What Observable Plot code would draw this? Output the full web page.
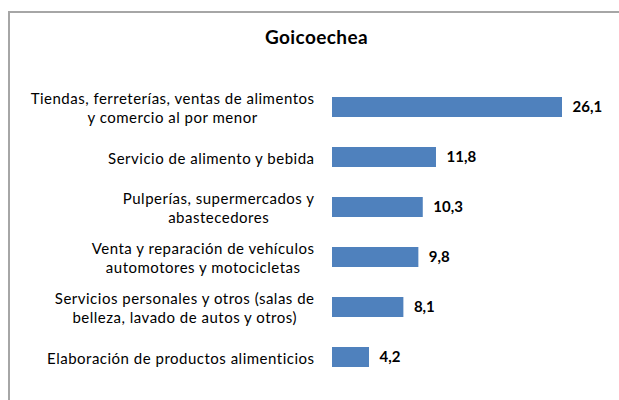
<!DOCTYPE html>
<html>
<head>
<meta charset="utf-8">
<script src="https://cdn.jsdelivr.net/npm/d3@7"></script>
<script src="https://cdn.jsdelivr.net/npm/@observablehq/plot@0.6"></script>
<style>
  body { margin: 0; background: #fff; font-family: Lato, "Open Sans", sans-serif; }
  #frame { position: absolute; left: 8px; top: 11px; width: 700px; height: 500px;
           border-left: 2px solid #a6a6a6; border-top: 2px solid #a6a6a6; }
  #wrap { position: relative; width: 619px; }
  #title { width: 633px; height: 40px; padding-top: 26px; text-align: center;
           font: bold 19px Lato, sans-serif; line-height: 22px; letter-spacing: 0.4px; color: #000; }
  g[aria-label="y-axis tick label"] { letter-spacing: 0.5px; }
</style>
</head>
<body>
<div id="frame"></div>
<div id="wrap">
  <div id="title">Goicoechea</div>
  <div id="chart"></div>
</div>
<script>
const categories = [
  "Tiendas, ferreterías, ventas de alimentos y comercio al por menor",
  "Servicio de alimento y bebida",
  "Pulperías, supermercados y abastecedores",
  "Venta y reparación de vehículos automotores y motocicletas",
  "Servicios personales y otros (salas de belleza, lavado de autos y otros)",
  "Elaboración de productos alimenticios"
];
const tickLabels = [
  "Tiendas, ferreterías, ventas de alimentos\ny comercio al por menor",
  "Servicio de alimento y bebida",
  "Pulperías, supermercados y\nabastecedores",
  "Venta y reparación de vehículos\nautomotores y motocicletas",
  "Servicios personales y otros (salas de\nbelleza, lavado de autos y otros)",
  "Elaboración de productos alimenticios"
];
const values = [26.1, 11.8, 10.3, 9.8, 8.1, 4.2];

const data = categories.map((c, i) => ({cat: c, value: values[i]}));
const labelOf = new Map(categories.map((c, i) => [c, tickLabels[i]]));
const fmt = v => v.toFixed(1).replace(".", ",");

const chart = Plot.plot({
  width: 619,
  height: 334,
  marginTop: 0,
  marginBottom: 2,
  marginLeft: 332,
  marginRight: 57,
  style: {fontFamily: "Lato, sans-serif", fontSize: "15px", color: "#000", background: "transparent"},
  x: {domain: [0, 26.1], axis: null},
  y: {domain: categories, padding: 0.6, axis: null},
  marks: [
    Plot.barX(data, {x: "value", y: "cat", fill: "#4F81BD"}),
    Plot.text(data, {x: "value", y: "cat", text: d => fmt(d.value), textAnchor: "start",
                     dx: 10, fontWeight: "bold", fontSize: 15, fill: "#000"}),
    Plot.axisY({tickSize: 0, tickPadding: 18, tickFormat: d => labelOf.get(d),
                fontSize: 15, lineHeight: 1.27, fill: "#000", label: null})
  ]
});
document.getElementById("chart").appendChild(chart);

// Centre the lines of each multi-line label within its right-aligned block
chart.querySelectorAll('g[aria-label="y-axis tick label"] text').forEach(t => {
  const spans = t.querySelectorAll("tspan");
  if (spans.length > 1) {
    const w = t.getBBox().width;
    t.setAttribute("text-anchor", "middle");
    spans.forEach(s => s.setAttribute("x", -w / 2));
  }
});
</script>
</body>
</html>
